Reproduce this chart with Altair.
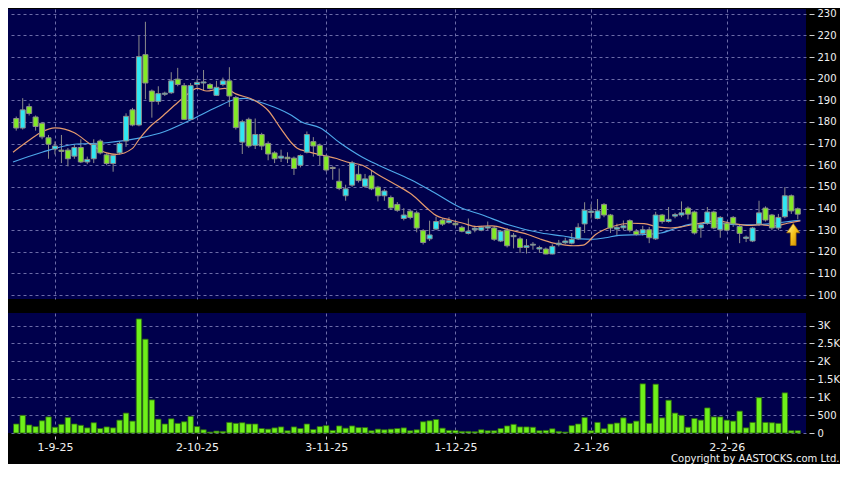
import altair as alt
import pandas as pd

# ---------------- data ----------------
opens = [181.6, 177.2, 187.1, 182.3, 179.4, 172.7, 167.5, 167.0, 167.0, 164.2,
         168.2, 161.5, 163.0, 171.2, 164.8, 160.8, 165.7, 171.2, 185.6, 178.6,
         211.1, 194.3, 189.5, 192.8, 193.5, 199.8, 196.8, 181.2, 197.3, 198.0,
         197.3, 192.3, 197.3, 199.0, 191.3, 170.7, 181.2, 169.2, 174.2, 170.1,
         165.7, 163.3, 163.7, 163.3, 160.0, 166.0, 170.9, 169.2, 164.2, 159.0,
         152.6, 145.9, 150.8, 155.8, 150.3, 155.1, 149.9, 145.9, 145.1, 141.9,
         135.4, 138.8, 138.0, 129.8, 126.0, 130.5, 134.7, 133.5, 133.2, 131.3,
         128.5, 130.2, 130.0, 131.0, 131.0, 125.0, 130.0, 127.0, 126.0, 122.0,
         123.1, 121.3, 121.3, 119.0, 123.3, 124.2, 124.0, 126.0, 132.9, 138.2,
         135.4, 141.9, 137.0, 130.5, 131.1, 134.4, 129.5, 128.5, 130.2, 126.0,
         137.0, 134.0, 136.5, 137.0, 140.2, 138.4, 131.0, 133.2, 138.4, 130.2,
         133.2, 135.9, 131.7, 126.2, 125.0, 132.9, 140.2, 137.0, 131.0, 136.2,
         145.9, 139.9]
highs = [182.5, 191.0, 188.5, 183.0, 180.0, 174.0, 171.0, 174.0, 168.0, 169.5,
         172.0, 164.0, 172.0, 172.0, 165.5, 165.0, 171.0, 184.0, 186.5, 220.0,
         226.3, 195.0, 196.5, 194.0, 203.0, 205.0, 198.0, 198.0, 200.0, 204.0,
         198.0, 199.0, 200.5, 205.3, 192.0, 181.0, 182.0, 181.6, 175.0, 171.0,
         166.5, 167.2, 166.0, 164.0, 165.0, 175.6, 173.0, 170.0, 165.0, 159.5,
         158.5, 151.0, 162.0, 160.0, 156.0, 157.8, 150.5, 149.0, 146.0, 143.0,
         140.2, 139.5, 139.0, 130.5, 134.4, 136.2, 135.5, 136.0, 134.0, 132.0,
         135.4, 132.0, 132.0, 134.0, 132.0, 130.0, 131.0, 128.7, 127.0, 125.9,
         124.5, 122.8, 122.0, 123.5, 125.5, 126.5, 128.7, 133.2, 142.9, 142.0,
         144.4, 142.5, 137.5, 133.0, 134.5, 135.0, 130.5, 132.0, 131.5, 138.5,
         137.5, 140.7, 138.0, 143.3, 141.0, 139.0, 133.5, 140.7, 139.0, 136.5,
         134.0, 136.5, 132.5, 127.5, 131.5, 143.6, 141.0, 137.5, 137.5, 149.9,
         146.5, 140.5]
lows = [176.0, 176.5, 183.0, 176.0, 172.0, 163.0, 165.0, 161.0, 159.5, 163.0,
        161.0, 160.5, 161.0, 165.0, 160.0, 157.0, 165.0, 168.5, 178.0, 178.0,
        190.5, 182.0, 188.0, 192.0, 193.0, 196.5, 181.0, 181.0, 196.0, 194.3,
        195.0, 192.0, 196.5, 187.0, 176.5, 165.2, 168.0, 167.5, 167.0, 162.3,
        161.0, 161.5, 161.0, 155.5, 159.0, 165.5, 164.0, 160.0, 157.0, 153.3,
        148.5, 143.6, 150.0, 152.0, 149.5, 148.5, 143.3, 143.6, 139.5, 138.5,
        134.5, 135.0, 129.0, 123.4, 125.0, 130.0, 132.0, 133.0, 132.0, 129.0,
        128.0, 129.0, 129.5, 130.0, 125.0, 124.5, 122.0, 121.6, 119.5, 119.2,
        121.0, 119.5, 118.8, 118.8, 122.5, 123.5, 123.5, 125.5, 128.7, 135.4,
        135.0, 136.0, 128.7, 127.5, 130.0, 129.0, 127.5, 127.5, 124.0, 125.5,
        133.0, 133.5, 135.5, 136.0, 135.0, 128.0, 126.5, 132.5, 130.5, 126.5,
        129.5, 131.5, 124.0, 124.5, 124.5, 132.0, 134.0, 130.0, 130.0, 135.5,
        137.5, 135.0]
closes = [177.2, 185.6, 183.9, 177.9, 173.1, 169.7, 168.9, 166.4, 163.0, 168.2,
          161.5, 162.7, 169.7, 165.7, 160.8, 164.5, 170.1, 182.6, 178.6, 210.2,
          198.0, 189.5, 193.1, 193.3, 199.0, 197.3, 181.2, 196.8, 198.3, 198.5,
          195.5, 196.0, 199.0, 192.0, 177.4, 180.1, 168.9, 174.2, 168.9, 165.2,
          163.0, 164.2, 163.0, 158.5, 164.5, 174.2, 168.9, 164.5, 157.8, 158.5,
          149.3, 149.1, 161.1, 152.9, 153.7, 149.1, 145.9, 148.1, 140.3, 139.2,
          137.0, 135.9, 131.0, 124.3, 127.8, 134.0, 132.8, 134.4, 132.5, 129.5,
          129.5, 130.9, 131.3, 131.6, 125.8, 129.5, 122.8, 127.6, 122.0, 122.8,
          123.5, 122.0, 119.0, 122.5, 124.0, 125.0, 125.8, 131.3, 139.2, 138.8,
          138.9, 137.0, 131.0, 131.3, 132.0, 130.0, 128.0, 130.2, 126.5, 137.0,
          134.0, 135.0, 137.2, 138.0, 137.4, 128.7, 132.5, 138.4, 131.0, 135.9,
          130.0, 132.9, 128.5, 126.8, 131.0, 138.0, 134.7, 131.0, 135.9, 145.9,
          138.9, 137.4]
volumes = [251, 493, 224, 179, 341, 449, 161, 242, 430, 251,
           215, 143, 287, 126, 170, 143, 359, 556, 332, 3184,
           2619, 924, 386, 251, 395, 269, 314, 466, 179, 90,
           27, 54, 45, 296, 269, 287, 251, 251, 126, 108,
           143, 170, 63, 170, 126, 251, 99, 179, 206, 72,
           197, 135, 197, 152, 152, 63, 108, 90, 108, 126,
           143, 63, 90, 314, 341, 377, 135, 72, 72, 45,
           45, 36, 90, 63, 63, 126, 197, 242, 170, 170,
           161, 63, 72, 117, 45, 27, 206, 251, 430, 63,
           296, 117, 251, 278, 422, 269, 332, 1372, 269, 1363,
           422, 915, 556, 493, 161, 404, 359, 700, 449, 449,
           359, 332, 610, 143, 296, 987, 296, 287, 269, 1121,
           63, 63]

ma_short_idx = [-0.5, 2, 4, 6, 9, 11.5, 14, 15.5, 18, 19, 20.5, 22.5, 25, 26.5,
                28, 29.5, 31, 32.3, 34, 37, 39, 41, 42.6, 43.5, 45, 47.5, 49.6,
                51.2, 53.6, 56.1, 58.7, 61.2, 63.7, 64.7, 67.2, 69.2, 71.2, 73.7,
                76.2, 79.2, 81.2, 83.2, 85, 86.3, 87.8, 89.7, 92.3, 95.3, 97.2,
                99.3, 101.3, 103.3, 105.8, 108.4, 110.8, 113.4, 115.3, 117.4,
                119.4, 121.4]
ma_short_val = [166.0, 171.5, 175.5, 177.3, 175.0, 169.7, 165.7, 165.0, 167.8,
                171.9, 177.2, 182.3, 189.0, 192.8, 195.5, 194.3, 195.0, 195.5,
                193.0, 189.8, 185.3, 176.8, 170.4, 167.9, 166.4, 164.6, 163.1,
                161.5, 160.0, 155.5, 151.1, 146.6, 139.9, 137.4, 134.7, 133.2,
                131.7, 132.0, 130.2, 128.0, 125.8, 124.0, 123.1, 122.8, 123.1,
                128.0, 131.7, 133.2, 133.0, 131.5, 131.0, 131.7, 133.2, 134.3,
                133.2, 132.2, 132.5, 132.0, 133.2, 134.3]
ma_long_idx = [-0.5, 4, 9, 14, 19, 23, 27, 31, 34, 35.5, 37, 40, 42.6, 44.1,
               47.1, 50.1, 53.6, 56.1, 61.1, 64.7, 68.6, 72.2, 76.2, 81.3, 84.7,
               87.3, 89.3, 91.2, 93.3, 97.2, 99.8, 102.3, 104.8, 108.4, 111.4,
               114.4, 117.4, 120.4, 121.4]
ma_long_val = [161.5, 166.0, 169.7, 170.4, 172.5, 175.6, 180.9, 186.8, 190.5,
               190.9, 189.8, 186.8, 183.1, 180.1, 177.2, 170.4, 163.7, 160.0,
               153.3, 147.4, 140.7, 137.0, 132.5, 128.7, 127.3, 126.0, 125.8,
               126.5, 127.6, 128.0, 128.7, 131.0, 132.9, 133.2, 132.5, 132.5,
               133.2, 134.3, 134.6]

date_tick_idx = [6, 28, 48, 68, 89, 110]
date_tick_labels = ["1-9-25", "2-10-25", "3-11-25", "1-12-25", "2-1-26", "2-2-26"]
price_ticks = [100, 110, 120, 130, 140, 150, 160, 170, 180, 190, 200, 210, 220, 230]
vol_ticks = [0, 500, 1000, 1500, 2000, 2500, 3000]
vol_tick_labels = ["0", "500", "1K", "1.5K", "2K", "2.5K", "3K"]
arrow_idx = [120.3]
arrow_price = [128.0]
copyright_text = "Copyright by AASTOCKS.com Ltd."

# ---------------- styling ----------------
NAVY = "#00004c"
GRID = "#6c6ca8"
CYAN = "#30e6f2"
GREEN = "#82ea26"
VOLGREEN = "#6ef01a"
BORDER = "#8c8c8c"
ORANGE = "#e59a6e"
BLUE = "#4ea8ea"
TXT = "#f0f0f0"
FONT = "DejaVu Sans"

W = 798
PH = 290
VH = 120

candles = pd.DataFrame({
    "i": list(range(len(closes))),
    "open": opens, "high": highs, "low": lows, "close": closes,
    "vol": volumes,
})
ma_s = pd.DataFrame({"i": ma_short_idx, "v": ma_short_val})
ma_l = pd.DataFrame({"i": ma_long_idx, "v": ma_long_val})
arrow = pd.DataFrame({"i": arrow_idx, "p": arrow_price})

xscale = alt.Scale(domain=[-0.5, 121.5], nice=False, zero=False)
pscale = alt.Scale(domain=[98.2, 232.2], nice=False, zero=False)
vscale = alt.Scale(domain=[0, 3350], nice=False)

x_grid_axis = alt.Axis(values=date_tick_idx, labels=False, ticks=False,
                       domain=False, grid=True, gridColor=GRID,
                       gridDash=[3, 3], gridWidth=1, title=None)

x_label_expr = " : ".join(
    f"datum.value == {v} ? '{l}'" for v, l in zip(date_tick_idx, date_tick_labels)
) + " : ''"
x_bottom_axis = alt.Axis(values=date_tick_idx, labelExpr=x_label_expr,
                         grid=True, gridColor=GRID, gridDash=[3, 3],
                         domain=False, ticks=True, tickSize=3, tickColor="#cfcfcf",
                         offset=3, labelPadding=2, labelColor=TXT,
                         labelFont=FONT, labelFontSize=11, title=None,
                         labelOverlap=False)

price_axis = alt.Axis(orient="right", values=price_ticks, grid=True,
                      gridColor=GRID, gridDash=[3, 3], domain=False,
                      tickSize=5, tickColor="#cfcfcf", offset=3,
                      labelPadding=3, labelColor=TXT, labelFont=FONT,
                      labelFontSize=10, title=None, labelOverlap=False)

v_label_expr = " : ".join(
    f"datum.value == {v} ? '{l}'" for v, l in zip(vol_ticks, vol_tick_labels)
) + " : ''"
vol_axis = alt.Axis(orient="right", values=vol_ticks, labelExpr=v_label_expr,
                    grid=True, gridColor=GRID, gridDash=[3, 3], domain=False,
                    tickSize=5, tickColor="#cfcfcf", offset=3, labelPadding=3,
                    labelColor=TXT, labelFont=FONT, labelFontSize=10,
                    title=None, labelOverlap=False)


def px(field):
    return alt.X(field, scale=xscale, axis=x_grid_axis)


def py(field):
    return alt.Y(field, scale=pscale, axis=price_axis)


base = alt.Chart(candles)

wicks = base.mark_rule(color=BORDER, strokeWidth=1).encode(
    x=px("i:Q"), y=py("low:Q"), y2="high:Q",
)

bodies = base.mark_bar(size=5, stroke=BORDER, strokeWidth=1).encode(
    x=px("i:Q"), y=py("open:Q"), y2="close:Q",
    fill=alt.condition("datum.close >= datum.open", alt.value(CYAN), alt.value(GREEN)),
)

line_s = alt.Chart(ma_s).mark_line(color=ORANGE, strokeWidth=1.2,
                                   interpolate="monotone", clip=True).encode(
    x=px("i:Q"), y=py("v:Q"))
line_l = alt.Chart(ma_l).mark_line(color=BLUE, strokeWidth=1.2,
                                   interpolate="monotone", clip=True).encode(
    x=px("i:Q"), y=py("v:Q"))

ARROW_PATH = "M0,-1L0.6,-0.15L0.26,-0.15L0.26,1L-0.26,1L-0.26,-0.15L-0.6,-0.15Z"
arrow_mark = alt.Chart(arrow).mark_point(
    shape=ARROW_PATH, size=484, filled=True, opacity=1,
    fill={"gradient": "linear", "x1": 0, "y1": 0, "x2": 1, "y2": 1,
          "stops": [{"offset": 0, "color": "#fff8a8"},
                    {"offset": 0.5, "color": "#f7c21a"},
                    {"offset": 1, "color": "#c98400"}]},
    stroke="#a86e00", strokeWidth=0.7,
).encode(x=px("i:Q"), y=py("p:Q"))

price_panel = alt.layer(wicks, line_l, line_s, bodies, arrow_mark).properties(
    width=W, height=PH)

volume_panel = base.mark_bar(size=5.4, fill=VOLGREEN, stroke="#2d6a10",
                             strokeWidth=0.8).encode(
    x=alt.X("i:Q", scale=xscale, axis=x_bottom_axis),
    y=alt.Y("vol:Q", scale=vscale, axis=vol_axis),
).properties(width=W, height=VH)

chart = alt.vconcat(price_panel, volume_panel, spacing=12).properties(
    background="#000000",
    padding={"left": 0, "top": 0, "right": 0, "bottom": 0},
    title=alt.TitleParams(text=copyright_text, orient="bottom", anchor="end",
                          frame="bounds", fontSize=10, font=FONT,
                          fontWeight="normal", color=TXT, offset=2),
).configure_view(fill=NAVY, stroke=None)

chart.save("out.html", embed_options={"renderer": "svg", "actions": False})
